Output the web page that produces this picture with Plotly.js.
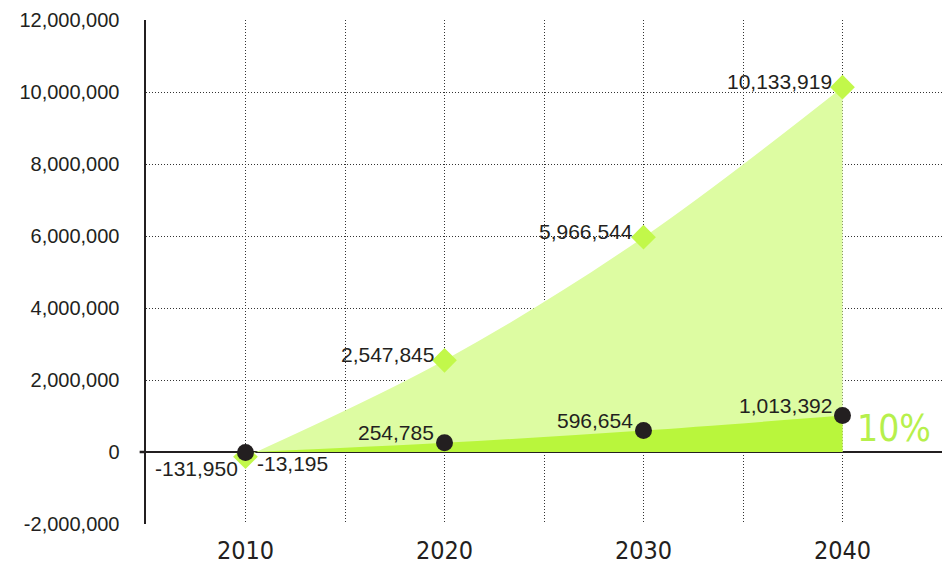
<!DOCTYPE html>
<html>
<head>
<meta charset="utf-8">
<script src="https://cdn.plot.ly/plotly-3.0.1.min.js"></script>
<style>html,body{margin:0;padding:0;background:#fff;}#chart{width:950px;height:568px;}</style>
</head>
<body>
<div id="chart"></div>
<script>
const years = [2010, 2020, 2030, 2040];
const totalValues = [-131950, 2547845, 5966544, 10133919];
const shareValues = [-13195, 254785, 596654, 1013392];
const xTickVals = [2005, 2010, 2015, 2020, 2025, 2030, 2035, 2040, 2045];
const xTickText = ['', '2010', '', '2020', '', '2030', '', '2040', ''];
const yTickVals = [-2000000, 0, 2000000, 4000000, 6000000, 8000000, 10000000, 12000000];
const yTickText = ['-2,000,000', '0', '2,000,000', '4,000,000', '6,000,000', '8,000,000', '10,000,000', '12,000,000'];
const shareLabel = '10%';

const fmt = v => v.toLocaleString('en-US');

const traces = [
  {
    x: years, y: totalValues, type: 'scatter', mode: 'lines+markers',
    fill: 'tozeroy', fillcolor: '#ddfca2',
    line: {shape: 'spline', width: 0, color: '#ddfca2', smoothing: 1},
    marker: {symbol: 'diamond', size: 19, color: '#c2f84a'},
    hoverinfo: 'skip', showlegend: false
  },
  {
    x: years, y: shareValues, type: 'scatter', mode: 'lines+markers',
    fill: 'tozeroy', fillcolor: '#b9f63c',
    line: {shape: 'spline', width: 0, color: '#b9f63c'},
    marker: {symbol: 'circle', size: 17, color: '#231f20'},
    hoverinfo: 'skip', showlegend: false
  }
];

const labelFont = {family: 'Liberation Sans, Arial, sans-serif', size: 21, color: '#231f20'};
const annotations = [];
years.forEach((yr, i) => {
  const first = i === 0;
  annotations.push({
    x: yr, y: totalValues[i], xref: 'x', yref: 'y', text: fmt(totalValues[i]),
    showarrow: false, font: labelFont, xanchor: 'right',
    yanchor: first ? 'top' : 'middle', xshift: first ? -6 : -9, yshift: first ? 2 : 6
  });
  annotations.push({
    x: yr, y: shareValues[i], xref: 'x', yref: 'y', text: fmt(shareValues[i]),
    showarrow: false, font: labelFont,
    xanchor: first ? 'left' : 'right',
    yanchor: first ? 'top' : 'middle', xshift: first ? 9 : -9, yshift: first ? 2 : 10
  });
});
annotations.push({
  x: years[years.length - 1], y: shareValues[shareValues.length - 1], xref: 'x', yref: 'y',
  text: shareLabel, showarrow: false, xanchor: 'left', yanchor: 'middle', xshift: 12, yshift: -13,
  font: {family: 'DejaVu Sans Condensed, Liberation Sans Narrow, Arial Narrow, sans-serif', size: 37, color: '#b6f04c'}
});

const layout = {
  width: 950, height: 568,
  margin: {l: 146, r: 8, t: 20, b: 44},
  paper_bgcolor: '#fff', plot_bgcolor: '#fff',
  showlegend: false,
  xaxis: {
    range: [2005, 2045], tickvals: xTickVals, ticktext: xTickText,
    showgrid: true, gridcolor: '#333', griddash: '1px,2px', gridwidth: 1,
    zeroline: false, showline: false, ticks: '',
    tickfont: {family: 'DejaVu Sans Condensed, Liberation Sans Narrow, Arial Narrow, sans-serif', size: 25, color: '#231f20'},
    ticklabelstandoff: 9
  },
  yaxis: {
    range: [-2000000, 12000000], tickvals: yTickVals, ticktext: yTickText,
    showgrid: true, gridcolor: '#333', griddash: '1px,2px', gridwidth: 1,
    zeroline: true, zerolinecolor: '#231f20', zerolinewidth: 2.5,
    showline: true, linecolor: '#231f20', linewidth: 2.5,
    ticks: '', tickfont: {family: 'Liberation Sans, Arial, sans-serif', size: 20, color: '#231f20'},
    ticklabelstandoff: 20
  },
  shapes: [
    {type: 'line', xref: 'paper', yref: 'y', x0: -0.008, x1: 0, y0: 0, y1: 0,
     line: {color: '#231f20', width: 2.5}}
  ],
  annotations: annotations
};

Plotly.newPlot('chart', traces, layout, {displayModeBar: false, staticPlot: true});
</script>
</body>
</html>
